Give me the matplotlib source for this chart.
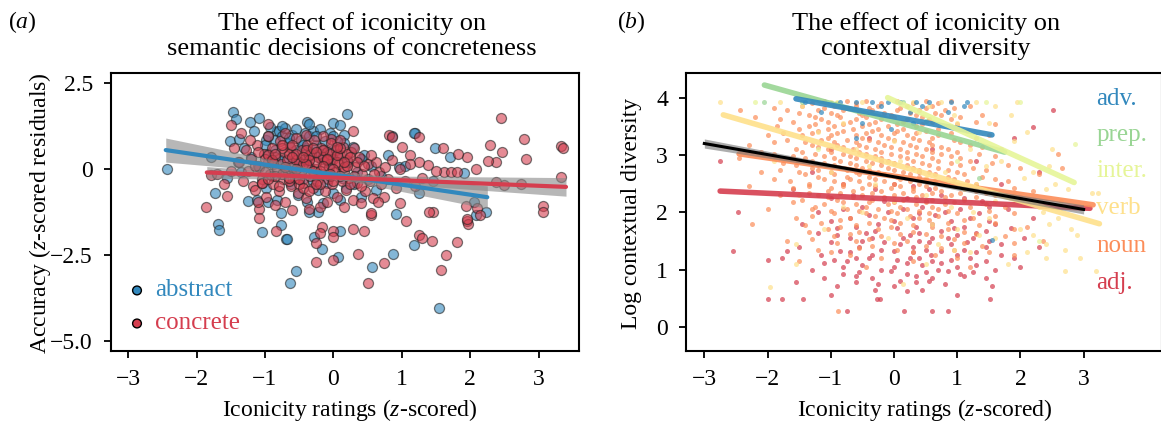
import numpy as np
import matplotlib
matplotlib.use("Agg")
import matplotlib.pyplot as plt

plt.rcParams['font.family'] = ['Liberation Serif', 'DejaVu Serif']
plt.rcParams['mathtext.fontset'] = 'custom'
plt.rcParams['mathtext.rm'] = 'Liberation Serif'
plt.rcParams['mathtext.it'] = 'Liberation Serif:italic'

# ---------------- Panel (a) data ----------------
abstract_x = [-2.43, -1.79, -1.51, -1.73, -1.22, -1.08, -1.47, -1.38, -0.98, -0.83,
              -1.25, -1.12, -0.96, -0.83, -1.42, -1.16, -0.92, -1.68, -1.67, -1.04,
              -0.77, -0.76, -0.69, -0.54, -0.63, -0.39, -0.01, 0.09, 0.20, 0.15,
              0.28, -0.28, -0.16, 0.07, 0.09, 0.57, 0.87, 1.18, 0.92, 1.54,
              1.20, 1.18, 1.48, 0.96, 2.08, 2.23, 1.91, -0.68, -0.23, -0.35,
              -1.30, -1.20, -1.10, -1.00, -0.95, -0.90, -0.85, -0.80, -0.75, -0.72,
              -0.70, -0.65, -0.62, -0.60, -0.55, -0.52, -0.50, -0.48, -0.45, -0.42,
              -0.40, -0.38, -0.35, -0.32, -0.30, -0.28, -0.25, -0.22, -0.20, -0.18,
              -0.15, -0.12, -0.10, -0.05, 0.00, 0.05, 0.10, 0.12, 0.18, 0.22,
              0.30, 0.35, 0.40, 0.45, 0.50, 0.55, 0.62, 0.70, 0.80, 0.85,
              1.05, 1.25, 1.45, 1.70, 2.05, -1.55, -1.35, -1.40, -0.98, -0.88,
              -0.58, -0.35, -0.02, 0.15, 0.40,
              -0.95, -0.85, -0.75, -0.65, -0.55, -0.45, -0.35, -0.25, -0.15, -0.05,
              0.05, -0.80, -0.60, -0.40, -0.20, 0.00, -0.70, -0.50, -0.30]
abstract_y = [0.00, 0.35, 0.82, -0.70, 1.38, 1.47, 1.65, 0.88, 0.85, 1.09,
              -0.94, -0.91, -0.97, -0.91, 1.46, 1.11, 1.21, -1.59, -1.77, -1.84,
              -1.27, -1.63, -2.03, -2.97, -3.32, 1.38, 1.35, 1.29, 1.59, 1.00,
              0.65, -1.97, -2.32, -2.56, -1.79, -2.85, -2.47, -2.20, -1.30, -4.04,
              1.05, 1.06, 0.62, 0.06, -1.35, -1.26, -0.12, -2.03, -1.26, -1.26,
              0.60, 0.35, 0.10, 0.70, 0.45, -0.20, 0.85, 1.10, 0.95, 0.30,
              1.20, 0.75, -0.45, 1.00, 0.55, -0.75, 0.20, 0.85, -0.30, 1.05,
              0.60, -0.95, 0.95, 0.40, 1.10, -0.20, 0.70, -0.60, 1.15, 0.30,
              -1.00, 0.80, -0.40, 0.15, -0.70, 0.45, -0.90, -0.25, -0.55, 0.20,
              -0.45, -0.10, -0.80, 0.40, -0.30, 0.10, -0.60, -0.20, 0.40, 0.95,
              0.10, -0.70, -0.35, 0.35, -0.95, -0.25, -0.10, 0.20, -0.55, 0.15,
              -0.05, 0.05, 0.55, 0.75, 0.30,
              0.95, 0.55, 1.25, 0.90, 1.15, 0.70, 1.30, 0.95, 0.55, 1.05,
              0.80, 0.30, 0.15, 0.25, 0.45, 0.95, -0.05, -0.15, -0.35]

concrete_x = [-1.86, -1.55, -1.49, -1.79, -1.18, -1.09, -1.08, -0.84, -0.25, -0.01,
              0.36, 0.51, 0.74, 0.29, 0.45, 0.55, 0.74, 0.98, 1.06, 1.25,
              1.30, 1.44, 1.46, 1.65, 1.58, 1.81, 1.96, 1.97, 2.45, 2.78,
              2.81, 2.47, 2.37, 2.26, 2.29, 1.95, 1.82, 2.08, 3.07, 3.07,
              2.74, 2.49, 2.37, 3.32, 3.36, 3.33, 0.82, 0.86, 1.25, 1.00,
              1.12, 1.60, 1.38, 1.62, 1.72, 1.80, 0.28, -0.03, 0.00, -0.16,
              -0.20, -0.25, 0.55, 1.94, 1.95, 2.10, 2.15, 1.40, 1.25, 0.00,
              -1.38, -1.32, -1.28, -1.25, -1.20, -1.15, -1.12, -1.08, -1.05, -1.02,
              -0.98, -0.95, -0.93, -0.90, -0.88, -0.85, -0.83, -0.80, -0.78, -0.76,
              -0.74, -0.72, -0.70, -0.68, -0.66, -0.64, -0.62, -0.60, -0.58, -0.56,
              -0.54, -0.52, -0.50, -0.48, -0.46, -0.44, -0.42, -0.40, -0.38, -0.36,
              -0.34, -0.32, -0.30, -0.28, -0.26, -0.24, -0.22, -0.20, -0.18, -0.16,
              -0.14, -0.12, -0.10, -0.08, -0.06, -0.04, -0.02, 0.00, 0.02, 0.04,
              0.06, 0.08, 0.10, 0.12, 0.14, 0.16, 0.18, 0.20, 0.23, 0.26,
              0.29, 0.32, 0.35, 0.38, 0.42, 0.46, 0.50, 0.54, 0.58, 0.62,
              0.66, 0.70, 0.75, 0.80, 0.86, 0.92, 0.98, 1.05, 1.12, 1.20,
              1.30, 1.50, -0.95, -0.70, -0.40, -0.15, 0.10, -1.60, -1.70, -1.45,
              -1.50, -1.10, -0.85, -0.60, -0.35, -0.10, 0.15, 0.40, 0.65, -0.55,
              -0.45, -0.35, -0.25, -0.15, -0.05, 0.05, -0.65, -0.75, -0.50, -0.30,
              -0.20, 0.00, 0.10, -0.88, -1.00, -0.60, -0.40, 0.20, 0.30, -0.10,
              -1.22, -1.35, -0.95, -1.05,
              -1.15, -1.05, -0.95, -0.85, -0.75, -0.65, -0.55, -0.45, -0.35, -0.25,
              -0.15, -0.05, 0.05, 0.15, 0.25, 0.35, -1.10, -1.00, -0.90, -0.80,
              -0.70, -0.60, -0.50, -0.40, -0.30, -0.20, -0.10, 0.00, 0.10, 0.20,
              0.30, -0.95, -0.75, -0.55, -0.35, -0.15, 0.05, 0.25, -0.85, -0.65,
              -0.45, -0.25, -0.05, 0.15, 0.45, 0.60, 0.55, 0.40]
concrete_y = [-1.10, -0.79, 1.29, -0.18, -0.50, -1.15, -1.42, -1.81, -2.70, -2.65,
              -2.47, -3.32, -2.74, -1.74, -1.79, -1.35, -0.82, -1.00, -1.50, -1.91,
              -2.00, -2.10, -1.25, -2.49, -2.94, -2.11, -1.50, -1.61, 1.47, 0.88,
              0.29, 0.50, 0.21, 0.24, 0.71, 0.35, 0.44, 0.00, -1.09, -1.26,
              -0.44, -0.47, -0.38, 0.68, 0.62, -0.23, 1.00, 0.94, 0.94, 0.65,
              0.41, 0.62, 0.12, -0.09, -0.09, -0.09, 1.09, 0.88, -1.79, -1.68,
              -1.85, -2.15, -1.29, -1.09, -1.44, -1.12, -1.35, -1.24, 0.21, -1.97,
              0.20, -0.35, 0.55, -0.05, 0.30, -0.60, 0.70, 0.05, -0.30, 0.45,
              -0.80, 0.20, -0.15, 0.60, -0.45, 0.35, 0.00, -0.65, 0.80, 0.15,
              -0.30, 0.50, -0.95, 0.25, -0.10, 0.65, -0.50, 0.05, 0.40, -0.25,
              0.90, -0.70, 0.20, -0.05, 0.55, -0.40, 0.30, -0.85, 0.70, 0.10,
              -0.20, 0.45, -0.55, 0.85, 0.00, -0.35, 0.35, -1.10, 0.60, -0.15,
              0.20, -0.65, 0.50, -0.30, 0.05, 0.75, -0.45, 0.30, -0.10, 0.55,
              -0.80, 0.15, 0.40, -0.35, 0.65, -0.05, -0.60, 0.25, -0.25, 0.50,
              -0.90, 0.05, -0.40, 0.35, -0.15, -0.65, 0.15, -0.35, -0.85, 0.20,
              -0.10, -0.45, 0.05, -0.30, 0.25, -0.55, 0.00, -0.35, 0.15, -0.50,
              -0.25, -0.05, 0.95, 1.05, 1.00, 0.95, 0.85, -0.45, -0.15, 0.60,
              -0.05, -0.95, -1.05, -1.20, -1.15, -0.95, -1.10, -1.00, -0.95, 0.25,
              0.15, 0.40, 0.20, 0.35, 0.45, 0.20, 0.45, -0.15, -0.45, -0.05,
              -0.45, 0.00, -0.20, 0.20, 0.30, 0.70, 0.55, 0.45, 0.60, 0.25,
              0.85, 1.05, 1.30, -0.40,
              0.10, -0.40, 0.40, -0.20, 0.60, -0.35, 0.45, -0.55, 0.25, -0.45,
              0.55, -0.20, 0.40, 0.05, -0.45, 0.20, 0.50, -0.10, 0.25, -0.50,
              0.05, 0.35, -0.30, 0.15, 0.60, -0.05, 0.30, -0.35, 0.60, 0.10,
              -0.20, -0.30, 0.70, 0.00, -0.65, 0.10, 0.65, 0.35, 0.45, -0.25,
              0.35, 0.50, -0.15, 0.20, 0.10, -0.15, 0.40, -0.50]

# fitted lines and confidence bands
abstract_fit_x = [-2.45, -0.20, 2.25]
abstract_fit_y = [0.55, -0.10, -0.82]
abstract_band = [0.35, 0.08, 0.33]
concrete_fit_x = [-1.85, 0.00, 3.40]
concrete_fit_y = [-0.10, -0.25, -0.52]
concrete_band = [0.17, 0.06, 0.27]

# ---------------- Panel (b) data (rows of y value, x values) ----------------
noun_rows = [
    (3.94, [-1.1, -0.75, -0.45, 0.05, 0.5, 0.9]),
    (3.90, [-1.3, -0.9, -0.6, -0.2, 0.3, 0.7]),
    (3.86, [-1.45, -0.95, -0.6, -0.25, 0.2, 0.6, 1.2]),
    (3.82, [-1.9, -1.1, -0.75, -0.4, 0.1, 0.5, 0.95]),
    (3.79, [-2.44]),
    (3.78, [-1.7, -1.2, -0.8, -0.35, 0.05, 0.4, 0.8]),
    (3.74, [-1.5, -1.0, -0.55, -0.15, 0.25, 0.65]),
    (3.70, [-1.35, -0.9, -0.5, -0.05, 0.35, 0.75, 1.4]),
    (3.66, [-2.2, -1.25, -0.85, -0.45, 0.0, 0.45, 1.05]),
    (3.62, [-1.8, -1.15, -0.6, -0.2, 0.2, 0.55, 0.9]),
    (3.58, [-1.6, -1.05, -0.7, -0.3, 0.15, 0.6, 1.3]),
    (3.54, [-1.25, -0.8, -0.4, 0.05, 0.45, 1.0, 1.6]),
    (3.50, [-1.85, -1.35, -0.95, -0.5, -0.1, 0.35, 0.85]),
    (3.46, [-1.5, -1.05, -0.65, -0.25, 0.15, 0.7]),
    (3.42, [-1.2, -0.8, -0.35, 0.05, 0.5, 1.15]),
    (3.38, [-1.75, -1.3, -0.9, -0.45, 0.0, 0.35, 0.9]),
    (3.34, [-2.0, -1.45, -1.0, -0.6, -0.2, 0.2, 0.7, 1.5]),
    (3.30, [-1.05, -0.5, -0.1, 0.3, 0.6, 1.3]),
    (3.26, [-1.7, -1.15, -0.75, -0.4, 0.0, 0.4, 0.95]),
    (3.22, [-1.9, -1.4, -0.95, -0.6, -0.25, 0.15, 0.55, 1.05]),
    (3.18, [-2.3, -1.3, -0.9, -0.55, -0.15, 0.25, 0.6, 1.2]),
    (3.14, [-1.2, -0.8, -0.45, -0.05, 0.35, 0.75, 1.4]),
    (3.10, [-1.55, -1.05, -0.65, -0.3, 0.1, 0.5, 0.85, 1.7]),
    (3.06, [-2.1, -1.45, -1.0, -0.55, -0.2, 0.2, 0.6, 1.0]),
    (3.02, [-1.9, -1.25, -0.8, -0.45, -0.05, 0.35, 0.75, 1.35, 2.6]),
    (2.98, [-1.6, -1.1, -0.7, -0.3, 0.1, 0.45, 0.9, 1.6]),
    (2.94, [-2.45, -1.4, -0.95, -0.6, -0.2, 0.2, 0.6, 1.05]),
    (2.90, [-1.3, -0.85, -0.45, -0.1, 0.3, 0.7, 1.2]),
    (2.86, [-1.75, -1.1, -0.7, -0.35, 0.0, 0.45, 0.9, 1.55]),
    (2.82, [-1.55, -0.95, -0.6, -0.2, 0.2, 0.55, 1.05, 1.8]),
    (2.78, [-1.3, -0.85, -0.5, -0.1, 0.3, 0.7, 1.25, 2.0, 2.66]),
    (2.74, [-1.8, -1.2, -0.75, -0.4, 0.0, 0.4, 0.85, 1.45]),
    (2.70, [-2.1, -1.5, -1.0, -0.6, -0.25, 0.15, 0.55, 1.0]),
    (2.66, [-1.4, -0.95, -0.55, -0.15, 0.25, 0.65, 1.1, 2.3]),
    (2.62, [-1.2, -0.75, -0.4, 0.05, 0.4, 0.85, 1.4]),
    (2.58, [-1.9, -1.1, -0.7, -0.3, 0.1, 0.5, 0.95, 1.6]),
    (2.54, [-1.65, -0.95, -0.55, -0.15, 0.25, 0.65, 1.15, 1.8]),
    (2.50, [-1.35, -0.8, -0.4, 0.0, 0.4, 0.8, 1.3]),
    (2.46, [-2.3, -1.35, -0.8, -0.3, 0.1, 0.5, 0.95]),
    (2.42, [-1.6, -1.0, -0.5, -0.05, 0.3, 0.65, 1.1, 1.9]),
    (2.38, [-1.05, -0.65, -0.2, 0.3, 0.75, 1.3, 2.2]),
    (2.34, [-1.35, -0.85, -0.35, 0.15, 0.6, 1.05, 1.45]),
    (2.30, [-1.8, -1.2, -0.5, 0.0, 0.45, 0.9, 1.6]),
    (2.26, [-1.05, -0.65, -0.15, 0.35, 0.8, 1.3, 2.0]),
    (2.22, [-1.45, -0.9, -0.35, 0.15, 0.6, 1.1]),
    (2.18, [-1.6, -0.8, -0.4, 0.0, 0.5, 0.95]),
    (2.14, [-1.1, -0.6, -0.1, 0.35, 0.8, 1.45, 2.4]),
    (2.10, [-1.25, -0.45, 0.1, 0.6, 1.2, 1.75]),
    (2.06, [-2.0, -1.3, -0.75, -0.25, 0.2, 0.7]),
    (2.02, [-1.0, -0.55, -0.05, 0.4, 0.85, 1.5]),
    (1.98, [-0.95, -0.45, 0.05, 0.55, 1.0, 1.9]),
    (1.94, [-1.3, -0.3, 0.25, 0.7, 1.6]),
    (1.90, [-1.55, -0.7, -0.15, 0.4, 1.25]),
    (1.86, [-0.85, -0.05, 0.55, 1.1]),
    (1.82, [-1.15, -0.4, 0.1, 0.85, 1.6]),
    (1.79, [-2.25]),
    (1.78, [-1.4, -0.6, 0.3, 1.35]),
    (1.74, [-0.85, -0.05, 0.6, 2.1]),
    (1.70, [-1.05, -0.25, 0.85, 1.9]),
    (1.66, [-1.35, -0.55, 0.3, 1.1]),
    (1.62, [-0.7, 0.1, 0.5, 1.3]),
    (1.58, [-0.95, -0.2, 0.75, 1.75]),
    (1.54, [-1.3, -0.4, 0.95]),
    (1.50, [-1.7, -0.6, 0.2, 2.35]),
    (1.46, [-0.9, 0.0, 1.1, 1.9]),
    (1.42, [-0.35, 0.5, 1.4]),
    (1.38, [-0.55, 0.75]),
    (1.34, [-1.2, 0.05, 0.95]),
    (1.30, [-1.0, 0.3, 1.5]),
    (1.25, [-0.7, 0.65, 1.9]),
    (1.20, [-0.2, 1.0]),
    (1.15, [-1.5, 0.3]),
    (1.05, [-0.45, 1.2]),
    (0.28, [-0.89]),
]
adj_rows = [
    (3.78, [2.52]), (3.49, [2.2]), (3.30, [-0.4, 1.9]), (3.10, [-1.0, 0.6]),
    (2.90, [-2.75, -0.2, 1.3]), (2.70, [-1.3, 0.4, 2.3]),
    (2.50, [-0.8, 0.0, 0.9, 1.7]), (2.45, [0.3, 1.3]),
    (2.40, [-1.6, -0.3, 0.55]), (2.30, [-0.65, 0.75, 1.7]),
    (2.25, [-1.0, 0.2, 1.1, 2.0]), (2.20, [-0.15, 0.5, 1.4]),
    (2.10, [-0.5, 0.45, 1.5]), (2.05, [-0.8, 0.15, 1.05, 1.8]),
    (2.00, [-2.47, -1.2, -0.1, 0.8]), (1.98, [0.4, 1.35]),
    (1.95, [-0.4, 0.65]), (1.90, [-0.7, 0.3, 1.2, 2.2]),
    (1.85, [-1.0, 0.0, 0.9, 1.5]), (1.80, [-1.45, -0.25, 0.6, 1.6]),
    (1.75, [-0.6, 0.35, 1.1]), (1.72, [-0.9, 0.05, 0.95, 1.85]),
    (1.68, [-0.3, 0.75, 1.45]), (1.64, [-1.2, -0.45, 0.4, 1.3]),
    (1.60, [-0.9, 0.25, 1.0]), (1.56, [-0.7, 0.15, 0.85, 2.05]),
    (1.55, [-0.35, 0.6, 1.25]), (1.50, [-0.5, 0.4, 1.5]),
    (1.48, [-1.0, -0.15, 0.55, 1.15]), (1.44, [0.1, 0.9, 1.7]),
    (1.40, [-1.5, -0.55, 0.3, 1.45, 2.3]), (1.35, [-0.2, 0.5, 1.1]),
    (1.33, [-2.55, -1.7, -0.85, 0.0, 0.75]), (1.30, [-0.7, 0.3, 1.3]),
    (1.25, [-1.15, -0.35, 0.58, 1.0, 1.7]), (1.21, [-1.77, -0.6, 0.25]),
    (1.20, [-0.4, 0.4, 1.2, 1.9]), (1.16, [-2.0, -0.95, 0.05, 0.9]),
    (1.15, [-0.75, 0.6, 1.45]), (1.12, [-1.1, 0.2, 0.75]),
    (1.08, [-0.5, 0.45, 1.3]), (1.04, [-0.8, 0.0, 1.0, 2.0]),
    (1.00, [-1.3, -0.2, 0.7, 1.6]), (0.98, [-0.05, 0.85]),
    (0.95, [-0.55, 0.5, 1.25]), (0.92, [-0.8, 0.2, 1.05]),
    (0.88, [-0.6, 0.35, 1.1]), (0.85, [-1.1, -0.35, 0.6, 1.45]),
    (0.80, [0.1, 0.55]), (0.79, [-1.55, -0.6, 0.35]),
    (0.75, [-0.25, 0.8]), (0.72, [-0.9, 0.0, 1.55]),
    (0.65, [-0.3, 0.45]), (0.62, [0.2]), (0.55, [-1.0, 1.0]),
    (0.49, [-2.0, -1.77, -1.44, -0.27, -0.22, 1.52]),
    (0.28, [-0.74, 0.16, 0.6, 0.85]),
]
verb_rows = [
    (3.93, [-2.75, -1.8, -1.0, -0.5, 0.3, 0.75, 1.3, 1.95]),
    (3.85, [-1.45, 0.55, 1.6]), (3.70, [0.95, 1.85]), (3.55, [-0.8, 1.0, 1.5]),
    (3.40, [-1.2, 0.4, 2.1]), (3.25, [0.0, 1.9]), (3.10, [-0.6, 1.2, 2.5]),
    (2.90, [-1.9, 0.1, 1.7]), (2.80, [-0.4, 1.45, 2.45]), (2.70, [-1.0, 0.8, 2.2]),
    (2.60, [0.5, 2.05]), (2.50, [-0.3, 1.3, 2.55]), (2.40, [1.1, 2.4, 2.75]),
    (2.34, [3.13, 3.23]), (2.30, [-1.5, 0.5, 1.9]), (2.20, [0.0, 1.6, 2.65]),
    (2.10, [-0.8, 0.9, 2.3]), (2.00, [-0.5, 1.25, 2.35]), (1.90, [0.2, 1.5, 2.6]),
    (1.80, [0.6, 2.45]), (1.70, [-1.1, 1.0, 2.0, 2.8]), (1.60, [1.35, 2.2, 2.9]),
    (1.55, [-0.1, 1.6]), (1.45, [-1.55, 0.7, 2.4]), (1.35, [0.95, 2.7]),
    (1.30, [1.2, 2.1]), (1.20, [2.4, 2.95]), (1.10, [-1.55, 0.5, 1.8]),
    (0.97, [2.7, 3.2]), (0.75, [0.15]), (0.70, [-1.96]),
]
inter_rows = [(3.93, [-2.2, -0.9, 1.45, 2.0]), (3.20, [2.86]), (3.10, [-1.2]),
              (2.90, [1.0]), (1.50, [2.3])]
prep_rows = [(3.93, [-2.05, -1.45, 0.15]), (3.60, [0.5]), (2.60, [1.35])]
adv_rows = [(3.93, [-1.4, -0.85, -0.6, -0.35, -0.1, 0.1, 0.35, 0.55, 0.9, 1.15]),
            (3.85, [-0.2, 0.45, 1.1]), (3.75, [-1.15, 0.25, 0.85]),
            (3.55, [-0.5, 0.3]), (3.45, [-0.05]), (3.30, [-0.6]), (1.52, [1.55])]

pos_labels = ['adv.', 'prep.', 'inter.', 'verb', 'noun', 'adj.']
pos_colors = ['#3288bd', '#99d594', '#e6f598', '#fee08b', '#fc8d59', '#d53e4f']
pos_rows = [adv_rows, prep_rows, inter_rows, verb_rows, noun_rows, adj_rows]
pos_label_y = [3.98, 3.35, 2.72, 2.07, 1.42, 0.77]

# regression line end points
pos_fit_x = [[-1.55, 1.55], [-2.05, 1.75], [-0.10, 2.85],
             [-2.70, 3.25], [-2.45, 3.15], [-2.75, 3.10]]
pos_fit_y = [[3.98, 3.35], [4.22, 3.05], [4.00, 2.52],
             [3.70, 1.80], [3.02, 2.13], [2.37, 2.07]]
all_fit_x = [-3.0, 0.0, 3.0]
all_fit_y = [3.20, 2.62, 2.05]
all_band = [0.08, 0.02, 0.08]

# ---------------- Figure ----------------
W, H = 1161, 425
fig = plt.figure(figsize=(W / 100, H / 100), dpi=100)

def px_axes(l, r, t, b):
    return fig.add_axes([l / W, 1 - b / H, (r - l) / W, (b - t) / H])

TICK_FS = 17
LAB_FS = 17
TITLE_FS = 19
KEY_FS = 18

def style(ax):
    for s in ax.spines.values():
        s.set_linewidth(1.5)
    ax.tick_params(direction='out', length=5, width=1.3, labelsize=TICK_FS)
    ax.tick_params(axis='x', pad=8)
    ax.tick_params(axis='y', pad=8)

# Panel (a)
axa = px_axes(111, 579, 73, 351)
style(axa)
axa.scatter(abstract_x, abstract_y, s=52, color='#3288bd', alpha=0.6,
            edgecolor='#222222', linewidth=0.9, zorder=2)
axa.scatter(concrete_x, concrete_y, s=52, color='#d53e4f', alpha=0.6,
            edgecolor='#222222', linewidth=0.9, zorder=2)
for fx, fy, fb, col in [(abstract_fit_x, abstract_fit_y, abstract_band, '#3288bd'),
                        (concrete_fit_x, concrete_fit_y, concrete_band, '#d53e4f')]:
    fx = np.array(fx); fy = np.array(fy); fb = np.array(fb)
    axa.fill_between(fx, fy - fb, fy + fb, color='#888888', alpha=0.6,
                     linewidth=0, zorder=3)
    axa.plot(fx[[0, -1]], fy[[0, -1]], color=col, lw=3, zorder=4,
             solid_capstyle='round')
axa.set_xlim(-3.25, 3.59)
axa.set_ylim(-5.29, 2.79)
axa.set_xticks([-3, -2, -1, 0, 1, 2, 3])
axa.set_xticklabels(['\u22123', '\u22122', '\u22121', '0', '1', '2', '3'])
axa.set_yticks([2.5, 0, -2.5, -5.0])
axa.set_yticklabels(['2.5', '0', '\u22122.5', '\u22125.0'])
# legend
axa.scatter([-2.87, -2.87], [-3.53, -4.49], s=40, color=['#3288bd', '#d53e4f'],
            edgecolor='black', linewidth=1.0, zorder=5)
axa.text(-2.61, -3.53, 'abstract', color='#3288bd', fontsize=KEY_FS, va='center')
axa.text(-2.61, -4.49, 'concrete', color='#d53e4f', fontsize=KEY_FS, va='center')

# Panel (b)
axb = px_axes(686, 1162, 73, 351)
style(axb)
for rows, col in zip(pos_rows[::-1], pos_colors[::-1]):
    xs = [x for y, xl in rows for x in xl]
    ys = [y for y, xl in rows for x in xl]
    axb.scatter(xs, ys, s=13, color=col, alpha=0.7, linewidth=0, zorder=2)
order = [5, 4, 3, 1, 0, 2]
for i in order:
    axb.plot(pos_fit_x[i], pos_fit_y[i], color=pos_colors[i], lw=4, alpha=0.9,
             zorder=3, solid_capstyle='round')
ax_ = np.array(all_fit_x); ay_ = np.array(all_fit_y); ab_ = np.array(all_band)
axb.fill_between(ax_, ay_ - ab_, ay_ + ab_, color='#777777', alpha=0.6,
                 linewidth=0, zorder=4)
axb.plot(ax_, ay_, color='black', lw=2.2, zorder=5)
for lab, col, ly in zip(pos_labels, pos_colors, pos_label_y):
    axb.text(3.2, ly, lab, color=col, fontsize=KEY_FS, va='center', ha='left')
axb.set_xlim(-3.29, 4.24)
axb.set_ylim(-0.42, 4.43)
axb.set_xticks([-3, -2, -1, 0, 1, 2, 3])
axb.set_xticklabels(['\u22123', '\u22122', '\u22121', '0', '1', '2', '3'])
axb.set_yticks([0, 1, 2, 3, 4])

# Titles and labels
fig.text(352 / W, 1 - 36 / H, 'The effect of iconicity on\nsemantic decisions of concreteness',
         ha='center', va='center', fontsize=TITLE_FS, linespacing=1.2)
fig.text(926 / W, 1 - 36 / H, 'The effect of iconicity on\ncontextual diversity',
         ha='center', va='center', fontsize=TITLE_FS, linespacing=1.2)
fig.text(22 / W, 1 - 22 / H, '($a$)', ha='center', va='center', fontsize=LAB_FS)
fig.text(631 / W, 1 - 22 / H, '($b$)', ha='center', va='center', fontsize=LAB_FS)
fig.text(350 / W, 1 - 410 / H, 'Iconicity ratings ($z$-scored)', ha='center',
         va='center', fontsize=LAB_FS)
fig.text(925 / W, 1 - 410 / H, 'Iconicity ratings ($z$-scored)', ha='center',
         va='center', fontsize=LAB_FS)
fig.text(40 / W, 1 - 213 / H, 'Accuracy ($z$-scored residuals)', ha='center',
         va='center', rotation=90, fontsize=LAB_FS)
fig.text(631 / W, 1 - 213 / H, 'Log contextual diversity', ha='center',
         va='center', rotation=90, fontsize=LAB_FS)

fig.savefig('out.png', dpi=100)
